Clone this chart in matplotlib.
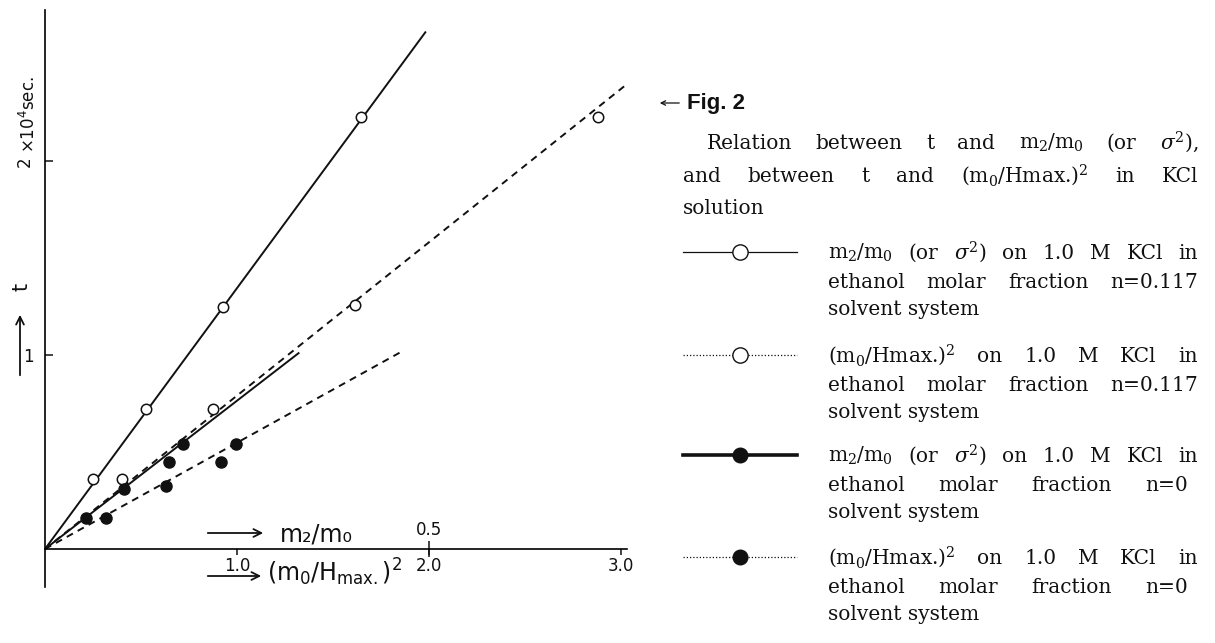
"""
Fig. 2 -- t against m2/m0 (or sigma^2) and against (m0/Hmax.)^2 in KCl solution
"""

import matplotlib
matplotlib.use('Agg')
import matplotlib.pyplot as plt

plt.rcParams['font.family'] = ['DejaVu Sans']

W, H = 1215, 643
INK = '#111111'

# m2/m0 = 0.5 sits at (m0/Hmax.)^2 = 2.0 on the shared abscissa
M2_SCALE = 4.0

# m2/m0 (or sigma^2), 1.0 M KCl, ethanol n = 0.117  -> open circles, solid line
m2m0_a = [0.063, 0.131, 0.232, 0.411]
t_a = [0.36, 0.72, 1.25, 2.23]
# (m0/Hmax.)^2, n = 0.117 -> open circles, dashed line
hmax_b = [0.40, 0.875, 1.615, 2.88]
t_b = [0.36, 0.72, 1.26, 2.23]
# m2/m0 (or sigma^2), n = 0 -> filled circles, solid line
m2m0_c = [0.053, 0.103, 0.161, 0.180]
t_c = [0.16, 0.31, 0.45, 0.54]
# (m0/Hmax.)^2, n = 0 -> filled circles, dashed line
hmax_d = [0.32, 0.63, 0.915, 0.995]
t_d = [0.16, 0.325, 0.45, 0.54]

# far ends of the drawn straight lines (they all start at the origin)
line_end_a = (0.495, 2.665)   # m2/m0 units
line_end_b = (3.02, 2.39)
line_end_c = (0.33, 1.01)     # m2/m0 units
line_end_d = (1.86, 1.02)

x_ticks = [1.0, 2.0, 3.0]
x_ticklabels = ['1.0', '2.0', '3.0']
top_ticks = [0.5]
y_ticks = [1, 2]
y_ticklabels = ['1', '2']

caption = [
    ('Relation between t and m$_2$/m$_0$ (or $\\sigma^2$),', True),
    ('and between t and (m$_0$/Hmax.)$^2$ in KCl', True),
    ('solution', False),
]
entries = [
    ['m$_2$/m$_0$ (or $\\sigma^2$) on 1.0 M KCl in',
     'ethanol molar fraction n=0.117', 'solvent system'],
    ['(m$_0$/Hmax.)$^2$ on 1.0 M KCl in',
     'ethanol molar fraction n=0.117', 'solvent system'],
    ['m$_2$/m$_0$ (or $\\sigma^2$) on 1.0 M KCl in',
     'ethanol molar fraction n=0', 'solvent system'],
    ['(m$_0$/Hmax.)$^2$ on 1.0 M KCl in',
     'ethanol molar fraction n=0', 'solvent system'],
]


def main():
    """
    Build and save the figure
    """
    fig = plt.figure(figsize=(W / 100, H / 100), dpi=100)
    fig.patch.set_facecolor('white')

    xmax, ymin, ymax = 3.03, -0.196, 2.78
    ax = fig.add_axes([45 / W, (H - 587) / H, 582 / W, 577 / H])
    ax.set_xlim(0, xmax)
    ax.set_ylim(ymin, ymax)
    ax.patch.set_visible(False)

    for side in ('top', 'right'):
        ax.spines[side].set_visible(False)
    ax.spines['left'].set_linewidth(1.2)
    ax.spines['bottom'].set_linewidth(1.2)
    ax.spines['bottom'].set_position(('data', 0))
    ax.spines['bottom'].set_bounds(0, xmax)

    ax.set_xticks(x_ticks)
    ax.set_xticklabels(x_ticklabels)
    ax.tick_params(axis='x', direction='out', length=4, width=1.1, pad=2,
                   labelsize=12, colors=INK)
    ax.set_yticks(y_ticks)
    ax.set_yticklabels(y_ticklabels)
    ax.tick_params(axis='y', direction='in', length=6, width=1.1, pad=8,
                   labelsize=12, colors=INK)
    ax.get_yticklabels()[1].set_rotation(90)
    ax.get_yticklabels()[1].set_va('center')

    # m2/m0 scale sharing the same baseline
    frac = (0 - ymin) / (ymax - ymin)
    sec = ax.secondary_xaxis(frac, functions=(lambda v: v / M2_SCALE,
                                              lambda v: v * M2_SCALE))
    sec.set_alignment('top')
    for sp in sec.spines.values():
        sp.set_visible(False)
    sec.set_xticks(top_ticks)
    sec.set_xticklabels(['0.5'])
    sec.tick_params(axis='x', direction='inout', length=11, width=1.1,
                    pad=2, labelsize=12, colors=INK)

    dash = (3.6, 2.8)
    ax.plot([0, line_end_a[0] * M2_SCALE], [0, line_end_a[1]], '-',
            color=INK, lw=1.4)
    ax.plot([0, line_end_b[0]], [0, line_end_b[1]], '--', dashes=dash,
            color=INK, lw=1.4)
    ax.plot([0, line_end_c[0] * M2_SCALE], [0, line_end_c[1]], '-',
            color=INK, lw=1.4)
    ax.plot([0, line_end_d[0]], [0, line_end_d[1]], '--', dashes=dash,
            color=INK, lw=1.4)

    ax.plot([v * M2_SCALE for v in m2m0_a], t_a, 'o', ms=7.5, mfc='white',
            mec=INK, mew=1.1, zorder=3)
    ax.plot(hmax_b, t_b, 'o', ms=7.5, mfc='white', mec=INK, mew=1.1,
            zorder=3)
    ax.plot([v * M2_SCALE for v in m2m0_c], t_c, 'o', ms=8, mfc=INK,
            mec=INK, zorder=3)
    ax.plot(hmax_d, t_d, 'o', ms=8, mfc=INK, mec=INK, zorder=3)

    # overlay in pixel units for the lettering, caption and key
    ov = fig.add_axes([0, 0, 1, 1])
    ov.set_xlim(0, W)
    ov.set_ylim(H, 0)
    ov.axis('off')

    arrow = dict(arrowstyle='->', lw=1.3, color=INK, mutation_scale=14)
    ov.annotate('', xy=(266, 533), xytext=(205, 533), arrowprops=arrow)
    ov.text(280, 541, 'm₂/m₀', fontsize=17, color=INK, va='baseline')
    ov.annotate('', xy=(264, 576), xytext=(205, 576), arrowprops=arrow)
    ov.text(267, 572, r'$\left(\mathrm{m_0/H_{max.}}\right)^2$', fontsize=17,
            color=INK, va='center', math_fontfamily='dejavusans')

    ov.annotate('', xy=(20, 312), xytext=(20, 378), arrowprops=arrow)
    ov.text(21, 287, 't', fontsize=15, rotation=90, color=INK,
            ha='center', va='center')
    ov.text(29, 153, r'$\times$10$^4$sec.', fontsize=12, rotation=90,
            color=INK, ha='center', va='bottom',
            math_fontfamily='dejavusans')

    # caption
    ov.annotate('', xy=(657, 103), xytext=(682, 103),
                arrowprops=dict(arrowstyle='->', lw=0.9, color=INK,
                                mutation_scale=8))
    ov.text(687, 103, 'Fig. 2', fontsize=16, fontweight='bold',
            fontfamily='Liberation Sans', color=INK, va='center')

    serif = dict(fontfamily='DejaVu Serif', fontsize=14.5,
                 math_fontfamily='dejavuserif', color=INK, va='baseline')
    renderer = fig.canvas.get_renderer()

    def put_line(text, x0, x1, y, justify):
        if not justify:
            ov.text(x0, y, text, **serif)
            return
        words = text.split(' ')
        items = [ov.text(x0, y, w, **serif) for w in words]
        widths = [t.get_window_extent(renderer).width for t in items]
        gap = (x1 - x0 - sum(widths)) / (len(items) - 1)
        x = x0
        for t, w in zip(items, widths):
            t.set_x(x)
            x += w + gap

    cap_y = [149, 182, 214]
    cap_x = [707, 683, 683]
    for (line, just), yy, xx in zip(caption, cap_y, cap_x):
        put_line(line, xx, 1198, yy, just)

    entry_y = [252, 355, 455, 557]
    offsets = [0, 29, 56]
    right = [[1198, 1198], [1198, 1198], [1198, 1188], [1198, 1188]]
    for k, (lines, y0) in enumerate(zip(entries, entry_y)):
        for j, (line, off) in enumerate(zip(lines, offsets)):
            put_line(line, 828, right[k][j] if j < 2 else 0, y0 + off + 7,
                     j < 2)

    # key symbols
    dotted = (0, (1, 1.6))
    ov.plot([683, 797], [252, 252], '-', lw=0.9, color=INK)
    ov.plot([740], [252], 'o', ms=11, mfc='white', mec=INK, mew=1.0)
    ov.plot([683, 797], [355, 355], ls=dotted, lw=0.9, color=INK)
    ov.plot([740], [355], 'o', ms=11, mfc='white', mec=INK, mew=1.0)
    ov.plot([683, 797], [455, 455], '-', lw=2.6, color=INK)
    ov.plot([740], [455], 'o', ms=10.5, mfc=INK, mec=INK)
    ov.plot([683, 797], [557, 557], ls=dotted, lw=0.9, color=INK)
    ov.plot([740], [557], 'o', ms=10.5, mfc=INK, mec=INK)

    fig.savefig('out.png', dpi=100, facecolor='white')


if __name__ == "__main__":
    main()
